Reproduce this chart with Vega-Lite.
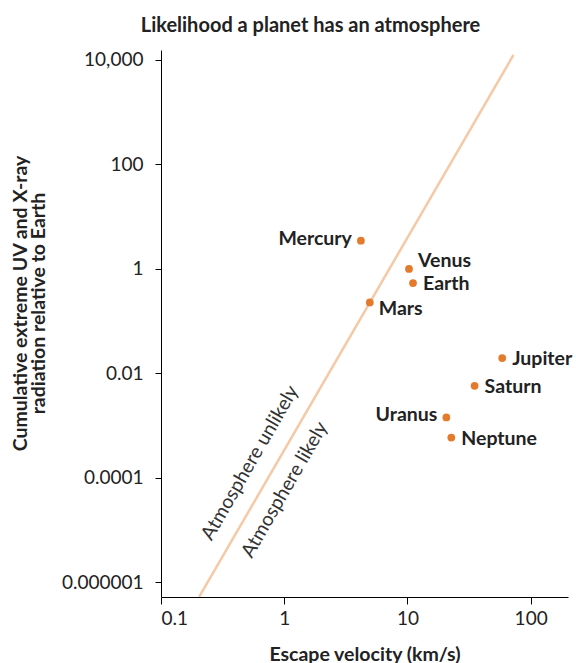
{
  "$schema": "https://vega.github.io/schema/vega-lite/v6.json",
  "width": 407,
  "height": 547,
  "autosize": "none",
  "padding": {"left": 161, "top": 50, "right": 8, "bottom": 66},
  "background": "white",
  "config": {
    "font": "Lato",
    "view": {"stroke": null},
    "axis": {
      "domainColor": "#000",
      "tickColor": "#000",
      "domainWidth": 1,
      "tickWidth": 1,
      "grid": false,
      "labelFont": "Lato",
      "labelFontSize": 19,
      "labelColor": "#222",
      "titleFont": "Lato",
      "titleFontSize": 19.5,
      "titleFontWeight": "bold",
      "titleColor": "#222"
    }
  },
  "title": {
    "text": "Likelihood a planet has an atmosphere",
    "font": "Lato",
    "fontSize": 20,
    "fontWeight": "bold",
    "color": "#222",
    "anchor": "middle",
    "frame": "group",
    "dx": -54,
    "offset": 14
  },
  "datasets": {
    "planets": [
      {"planet": "Mercury", "velocity": 4.19, "radiation": 3.44},
      {"planet": "Venus", "velocity": 10.3, "radiation": 0.99},
      {"planet": "Earth", "velocity": 11.1, "radiation": 0.532},
      {"planet": "Mars", "velocity": 4.95, "radiation": 0.226},
      {"planet": "Jupiter", "velocity": 58.8, "radiation": 0.0195},
      {"planet": "Saturn", "velocity": 35.1, "radiation": 0.00574},
      {"planet": "Uranus", "velocity": 20.7, "radiation": 0.00142},
      {"planet": "Neptune", "velocity": 22.7, "radiation": 0.000586}
    ],
    "shoreline": [
      {"velocity": 0.204, "radiation": 5.2e-7},
      {"velocity": 72.6, "radiation": 12500}
    ],
    "notes": [
      {"label": "Atmosphere unlikely", "velocity": 0.528, "radiation": 0.000192},
      {"label": "Atmosphere likely", "velocity": 1.01, "radiation": 0.0000584}
    ]
  },
  "layer": [
    {
      "data": {"name": "shoreline"},
      "mark": {"type": "line", "color": "#F6C9A6", "strokeWidth": 2.5, "clip": true},
      "encoding": {
        "x": {
          "field": "velocity",
          "type": "quantitative",
          "scale": {"type": "log", "domain": [0.1, 201], "nice": false},
          "axis": {
            "values": [0.1, 1, 10, 100],
            "format": "~f",
            "tickSize": 7,
            "labelPadding": 5,
            "title": "Escape velocity (km/s)",
            "titleY": 57,
            "titleBaseline": "middle"
          }
        },
        "y": {
          "field": "radiation",
          "type": "quantitative",
          "scale": {"type": "log", "domain": [5.164e-7, 15488], "nice": false},
          "axis": {
            "values": [0.000001, 0.0001, 0.01, 1, 100, 10000],
            "format": ",~f",
            "tickSize": 6,
            "labelPadding": 12,
            "title": ["Cumulative extreme UV and X-ray", "radiation relative to Earth"],
            "titleX": -141,
            "titleY": 253,
            "titleAngle": -90,
            "titleAlign": "center",
            "titleBaseline": "middle",
            "titleLineHeight": 18
          }
        }
      }
    },
    {
      "data": {"name": "notes"},
      "mark": {"type": "text", "angle": -60, "fontSize": 19.5, "color": "#333", "align": "center", "baseline": "middle"},
      "encoding": {
        "x": {"field": "velocity", "type": "quantitative"},
        "y": {"field": "radiation", "type": "quantitative"},
        "text": {"field": "label"}
      }
    },
    {
      "data": {"name": "planets"},
      "mark": {"type": "circle", "color": "#E47B2C", "opacity": 1, "size": 60},
      "encoding": {
        "x": {"field": "velocity", "type": "quantitative"},
        "y": {"field": "radiation", "type": "quantitative"}
      }
    },
    {
      "data": {"name": "planets"},
      "transform": [{"filter": "indexof(['Earth','Jupiter','Saturn','Neptune'], datum.planet) >= 0"}],
      "mark": {"type": "text", "align": "left", "baseline": "middle", "dx": 10, "dy": 1, "fontSize": 19.5, "fontWeight": "bold", "color": "#222"},
      "encoding": {
        "x": {"field": "velocity", "type": "quantitative"},
        "y": {"field": "radiation", "type": "quantitative"},
        "text": {"field": "planet"}
      }
    },
    {
      "data": {"name": "planets"},
      "transform": [{"filter": "datum.planet == 'Venus'"}],
      "mark": {"type": "text", "align": "left", "baseline": "middle", "dx": 9, "dy": -8, "fontSize": 19.5, "fontWeight": "bold", "color": "#222"},
      "encoding": {
        "x": {"field": "velocity", "type": "quantitative"},
        "y": {"field": "radiation", "type": "quantitative"},
        "text": {"field": "planet"}
      }
    },
    {
      "data": {"name": "planets"},
      "transform": [{"filter": "datum.planet == 'Mars'"}],
      "mark": {"type": "text", "align": "left", "baseline": "middle", "dx": 9, "dy": 7, "fontSize": 19.5, "fontWeight": "bold", "color": "#222"},
      "encoding": {
        "x": {"field": "velocity", "type": "quantitative"},
        "y": {"field": "radiation", "type": "quantitative"},
        "text": {"field": "planet"}
      }
    },
    {
      "data": {"name": "planets"},
      "transform": [{"filter": "datum.planet == 'Mercury' || datum.planet == 'Uranus'"}],
      "mark": {"type": "text", "align": "right", "baseline": "middle", "dx": -9, "dy": -2, "fontSize": 19.5, "fontWeight": "bold", "color": "#222"},
      "encoding": {
        "x": {"field": "velocity", "type": "quantitative"},
        "y": {"field": "radiation", "type": "quantitative"},
        "text": {"field": "planet"}
      }
    }
  ]
}
